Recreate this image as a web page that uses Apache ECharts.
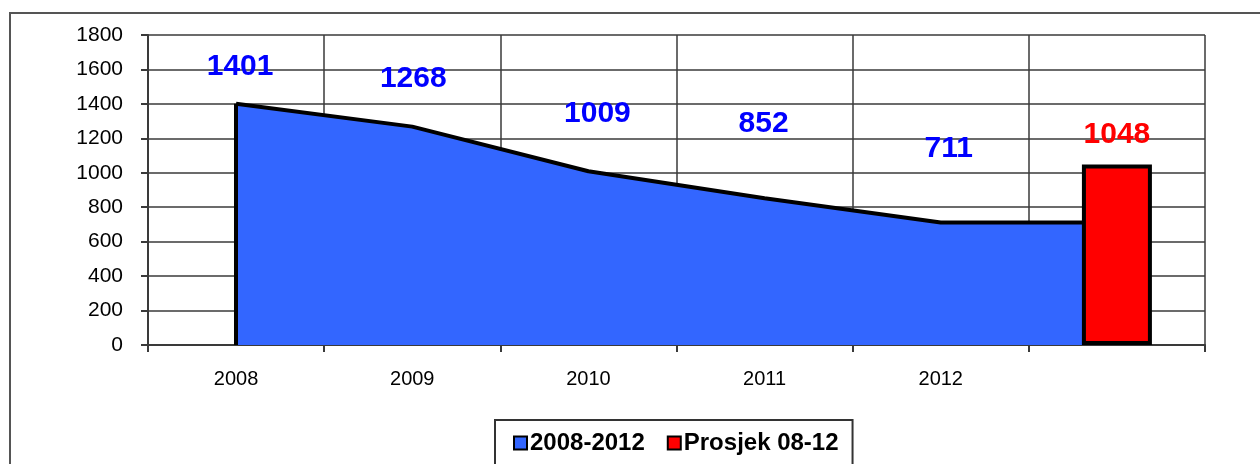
<!DOCTYPE html>
<html>
<head>
<meta charset="utf-8">
<script src="https://cdn.jsdelivr.net/npm/echarts@6/dist/echarts.min.js"></script>
<style>
html,body{margin:0;padding:0;background:#fff;}
#chart{width:1260px;height:464px;}
</style>
</head>
<body>
<div id="chart"></div>
<script>
const categories = ['2008', '2009', '2010', '2011', '2012', ''];
const areaValues = [1401, 1268, 1009, 852, 711, 711];
const avgValues = [null, null, null, null, null, 1048];
const yTicks = [0, 200, 400, 600, 800, 1000, 1200, 1400, 1600, 1800];
const seriesNames = ['2008-2012', 'Prosjek 08-12'];
const shownAreaLabels = 5;

const labelOffsets = [[4, -17], [1, -28], [9, -37], [-1, -55], [8, -54], [0, 0]];

const chart = echarts.init(document.getElementById('chart'));
const gridColor = '#3a3a3a';
const font = 'Liberation Sans, Arial, sans-serif';

chart.setOption({
  animation: false,
  backgroundColor: '#fff',
  graphic: [{
    type: 'rect',
    shape: { x: 10, y: 13, width: 1400, height: 600 },
    style: { fill: 'none', stroke: '#555', lineWidth: 2 },
    z: -1,
    silent: true
  }],
  grid: { left: 148, right: 55, top: 35, bottom: 119, containLabel: false },
  legend: {
    left: 495,
    top: 420,
    orient: 'horizontal',
    padding: [10, 14, 40, 18],
    borderColor: '#333',
    borderWidth: 2,
    itemWidth: 13,
    itemHeight: 13,
    itemGap: 22,
    icon: 'rect',
    textStyle: { fontFamily: font, fontWeight: 'bold', fontSize: 24, color: '#000', lineHeight: 26, padding: [0, 0, 0, -2] },
    data: [
      { name: seriesNames[0], itemStyle: { color: '#3366FF', borderColor: '#000', borderWidth: 2 } },
      { name: seriesNames[1], itemStyle: { color: '#FF0000', borderColor: '#000', borderWidth: 2 } }
    ]
  },
  xAxis: {
    type: 'category',
    data: categories,
    boundaryGap: true,
    axisLine: { show: true, lineStyle: { color: gridColor, width: 2 } },
    axisTick: { show: true, length: 7, alignWithLabel: false, lineStyle: { color: gridColor, width: 2 } },
    splitLine: { show: true, lineStyle: { color: gridColor, width: 1.5 } },
    axisLabel: { color: '#000', fontFamily: font, fontSize: 20, margin: 24 }
  },
  yAxis: {
    type: 'value',
    min: yTicks[0],
    max: yTicks[yTicks.length - 1],
    interval: yTicks[1] - yTicks[0],
    axisLine: { show: true, lineStyle: { color: gridColor, width: 2 } },
    axisTick: { show: true, length: 7, lineStyle: { color: gridColor, width: 2 } },
    splitLine: { show: true, lineStyle: { color: gridColor, width: 1.5 } },
    axisLabel: { color: '#000', fontFamily: font, fontSize: 21, margin: 25, formatter: v => String(v) }
  },
  series: [
    {
      name: seriesNames[0],
      type: 'line',
      data: areaValues.map((v, i) => ({
        value: v,
        label: { show: i < shownAreaLabels, offset: labelOffsets[i] }
      })),
      symbol: 'circle',
      symbolSize: 0.01,
      showSymbol: true,
      color: '#3366FF',
      itemStyle: { color: '#3366FF' },
      lineStyle: { color: '#000', width: 4 },
      areaStyle: { color: '#3366FF', opacity: 1 },
      label: {
        show: true,
        position: 'top',
        color: '#0000FF',
        fontFamily: font,
        fontWeight: 'bold',
        fontSize: 30
      },
      markLine: {
        silent: true,
        symbol: 'none',
        label: { show: false },
        lineStyle: { color: '#000', width: 4, type: 'solid' },
        data: [[{ coord: [categories[0], 0] }, { coord: [categories[0], areaValues[0]] }]]
      },
      z: 2
    },
    {
      name: seriesNames[1],
      type: 'bar',
      data: avgValues,
      barWidth: 70,
      itemStyle: { color: '#FF0000', borderColor: '#000', borderWidth: 4 },
      label: {
        show: true,
        position: 'top',
        offset: [0, -10],
        color: '#FF0000',
        fontFamily: font,
        fontWeight: 'bold',
        fontSize: 30
      },
      z: 3
    }
  ]
});
</script>
</body>
</html>
